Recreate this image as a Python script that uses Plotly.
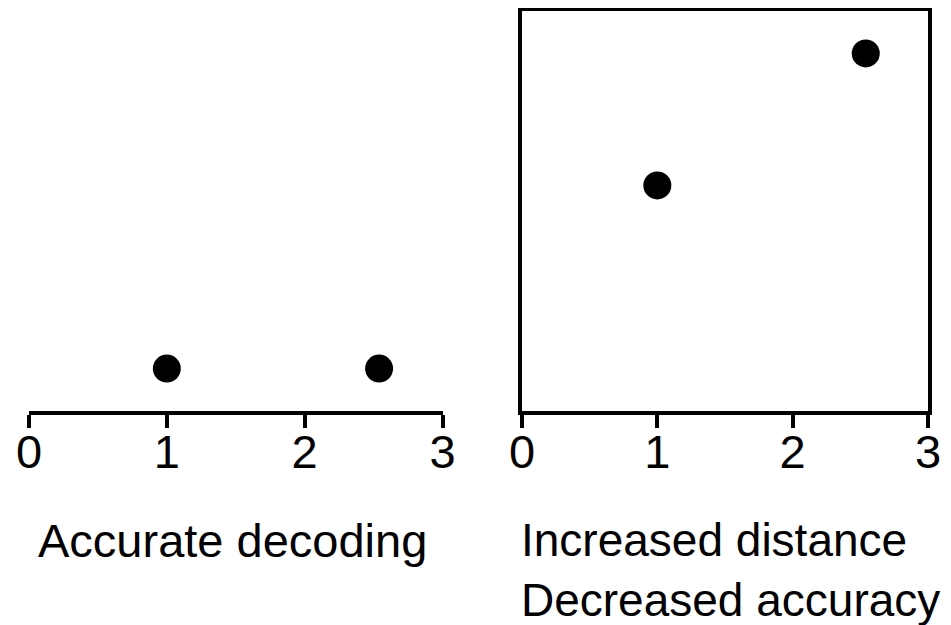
import plotly.graph_objects as go

# Data
x_ticks = [0, 1, 2, 3]
tick_labels = ["0", "1", "2", "3"]
left_x = [1.0, 2.54]
left_y = [1.06, 1.06]
right_x = [1.0, 2.54]
right_y = [5.64, 8.94]
left_title = "Accurate decoding"
right_title_lines = ["Increased distance", "Decreased accuracy"]

# The page body has an 8px margin, so compensate.
OFF = 8
W, H = 951 - OFF, 625 - OFF
FONT = "Arial, Liberation Sans, sans-serif"

def px_x(p):
    return (p - OFF) / W

def px_y(p):
    return (H - (p - OFF)) / H

fig = go.Figure()
fig.add_trace(go.Scatter(x=left_x, y=left_y, mode="markers",
                         marker=dict(color="black", size=28),
                         xaxis="x", yaxis="y", showlegend=False))
fig.add_trace(go.Scatter(x=right_x, y=right_y, mode="markers",
                         marker=dict(color="black", size=28),
                         xaxis="x2", yaxis="y2", showlegend=False))

ydom = [px_y(411), px_y(11)]
common_x = dict(range=[0, 3], tickvals=x_ticks, ticktext=tick_labels,
                showline=True, linecolor="black", linewidth=4,
                ticks="outside", ticklen=13, tickwidth=4, tickcolor="black",
                showgrid=False, zeroline=False, automargin=False,
                ticklabelstandoff=-16,
                tickfont=dict(family=FONT, size=47, color="black"))

fig.update_layout(
    width=W, height=H,
    margin=dict(l=0, r=0, t=0, b=0, autoexpand=False),
    paper_bgcolor="white", plot_bgcolor="white",
    xaxis=dict(domain=[px_x(29), px_x(442.5)], anchor="y", **common_x),
    yaxis=dict(domain=ydom, range=[0, 10], anchor="x", visible=False, automargin=False),
    xaxis2=dict(domain=[px_x(522), px_x(928)], anchor="y2", mirror=True, **common_x),
    yaxis2=dict(domain=ydom, range=[0, 10], anchor="x2", showline=True,
                linecolor="black", linewidth=4, mirror=True, showticklabels=False,
                ticks="", showgrid=False, zeroline=False, automargin=False),
)

fig.add_annotation(text=left_title, xref="paper", yref="paper",
                   x=px_x(232.5), y=px_y(540), xanchor="center", yanchor="middle",
                   showarrow=False, font=dict(family=FONT, size=47, color="black"))
for i, line in enumerate(right_title_lines):
    fig.add_annotation(text=line, xref="paper", yref="paper",
                       x=px_x(519), y=px_y(540 + 60 * i), xanchor="left", yanchor="middle",
                       showarrow=False, font=dict(family=FONT, size=46, color="black"))

fig.write_html("out.html")
